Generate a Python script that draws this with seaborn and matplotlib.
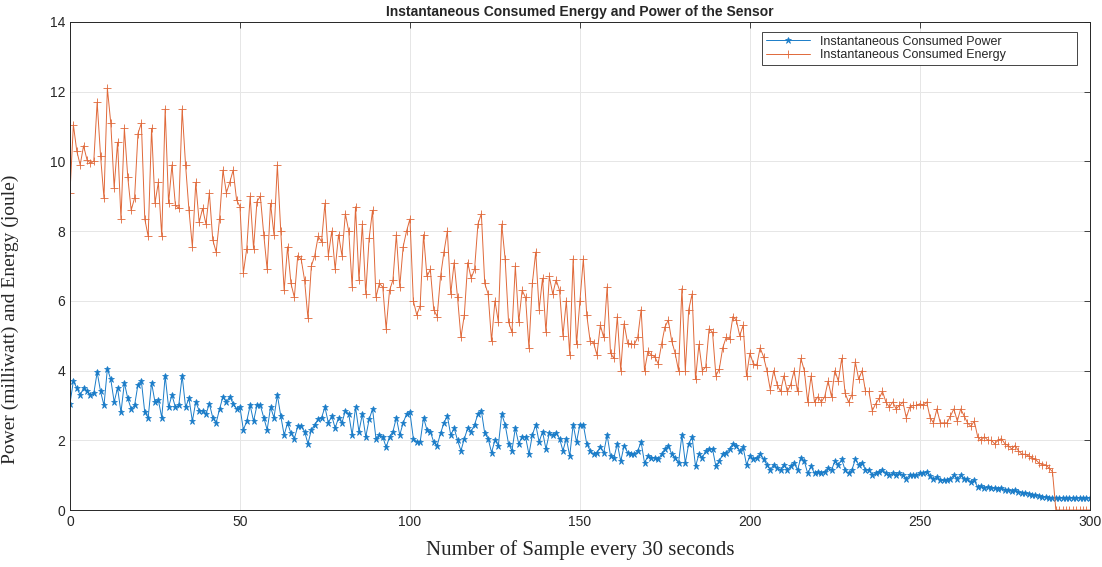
import numpy as np
import pandas as pd
import matplotlib
matplotlib.use('Agg')
import matplotlib.pyplot as plt
import seaborn as sns

# Values (one sample every 30 s)
energy_0_49 = [9.1, 11.05, 10.3, 9.9, 10.45, 10.05, 9.95, 10.0, 11.7, 10.15,
               8.95, 12.1, 11.1, 9.25, 10.55, 8.35, 10.95, 9.55, 8.6, 8.95,
               10.8, 11.1, 8.35, 7.85, 10.95, 8.8, 9.4, 7.85, 11.5, 8.8,
               9.9, 8.75, 8.65, 11.5, 9.9, 8.6, 7.55, 9.4, 8.25, 8.65,
               8.2, 9.1, 7.75, 7.4, 8.35, 9.75, 9.1, 9.4, 9.75, 8.9]
energy_50_98 = [8.7, 6.8, 7.5, 9.0, 7.5, 8.85, 9.0, 7.9, 6.9, 8.8,
                7.9, 9.9, 8.0, 6.3, 7.55, 6.5, 6.1, 7.3, 7.2, 6.6,
                5.5, 7.0, 7.3, 7.85, 7.7, 8.8, 7.3, 8.0, 6.9, 7.9,
                7.3, 8.5, 8.0, 6.4, 8.7, 6.6, 8.2, 6.2, 7.8, 8.6,
                6.1, 6.5, 6.4, 5.2, 6.3, 6.6, 7.9, 6.4, 7.55]
energy_99_148 = [8.0, 8.35, 6.0, 5.6, 5.85, 7.9, 6.7, 6.9, 5.75, 5.55,
                 6.7, 7.4, 8.0, 6.2, 7.1, 6.1, 4.95, 5.6, 7.1, 6.65,
                 6.9, 8.2, 8.5, 6.5, 6.2, 4.85, 6.0, 5.4, 8.2, 7.2,
                 5.4, 5.1, 7.0, 5.4, 6.3, 6.1, 4.65, 6.5, 7.4, 5.75,
                 6.65, 5.1, 6.7, 6.2, 6.6, 6.3, 5.0, 6.0, 4.45, 7.2]
energy_149_198 = [4.75, 6.0, 7.2, 5.6, 4.85, 4.8, 4.45, 5.3, 4.95, 6.4,
                  4.5, 4.35, 5.55, 4.0, 5.35, 4.8, 4.75, 4.75, 4.95, 5.75,
                  4.0, 4.55, 4.45, 4.4, 4.2, 4.75, 5.25, 5.45, 4.85, 4.5,
                  4.0, 6.35, 4.0, 5.75, 6.2, 3.75, 4.75, 4.0, 4.1, 5.2,
                  5.1, 3.85, 4.05, 4.65, 4.95, 4.9, 5.55, 5.45, 5.0, 5.3]
energy_199_248 = [3.85, 4.5, 4.2, 4.15, 4.65, 4.4, 4.0, 3.45, 4.0, 3.6,
                  3.4, 3.85, 3.4, 3.6, 4.0, 3.4, 4.35, 4.0, 3.1, 3.85,
                  3.1, 3.25, 3.1, 3.25, 3.7, 3.25, 4.0, 3.7, 4.35, 3.35,
                  3.1, 3.3, 4.25, 3.75, 4.0, 3.4, 3.4, 2.85, 3.05, 3.2,
                  3.4, 3.1, 2.95, 3.1, 2.9, 3.0, 3.1, 2.65, 2.95, 3.0]
energy_249_300 = [3.0, 3.05, 3.0, 3.1, 2.65, 2.5, 2.9, 2.5, 2.5, 2.5,
                  2.7, 2.9, 2.55, 2.9, 2.7, 2.5, 2.4, 2.55, 2.1, 2.0,
                  2.1, 2.0, 2.0, 1.9, 2.0, 2.05, 1.9, 1.85, 1.75, 1.85,
                  1.7, 1.6, 1.6, 1.55, 1.5, 1.45, 1.35, 1.3, 1.3, 1.2,
                  1.1, 0, 0, 0, 0, 0, 0, 0, 0, 0, 0, 0]

power_0_49 = [3.05, 3.7, 3.5, 3.3, 3.5, 3.4, 3.3, 3.35, 3.95, 3.4,
              3.0, 4.05, 3.75, 3.1, 3.5, 2.8, 3.65, 3.2, 2.9, 3.0,
              3.6, 3.7, 2.8, 2.65, 3.65, 3.1, 3.15, 2.65, 3.85, 2.95,
              3.3, 2.95, 3.0, 3.85, 2.95, 3.2, 2.55, 3.1, 2.85, 2.85,
              2.75, 3.05, 2.65, 2.5, 2.9, 3.25, 3.1, 3.25, 3.05, 2.9]
power_50_98 = [2.95, 2.3, 2.55, 3.0, 2.55, 3.0, 3.0, 2.65, 2.3, 2.95,
               2.65, 3.3, 2.7, 2.15, 2.5, 2.2, 2.05, 2.4, 2.4, 2.25,
               1.9, 2.3, 2.45, 2.6, 2.65, 2.95, 2.5, 2.7, 2.35, 2.65,
               2.5, 2.85, 2.75, 2.15, 2.95, 2.25, 2.75, 2.1, 2.6, 2.9,
               2.05, 2.15, 2.1, 1.8, 2.1, 2.25, 2.65, 2.15, 2.5]
power_99_148 = [2.75, 2.8, 2.05, 1.95, 1.95, 2.65, 2.3, 2.25, 1.95, 1.85,
                2.2, 2.5, 2.7, 2.15, 2.35, 2.0, 1.7, 2.05, 2.35, 2.25,
                2.45, 2.75, 2.85, 2.2, 2.05, 1.65, 2.0, 1.85, 2.75, 2.45,
                1.9, 1.7, 2.35, 1.9, 2.1, 2.1, 1.6, 2.15, 2.45, 1.95,
                2.25, 1.75, 2.2, 2.15, 2.2, 2.05, 1.7, 2.05, 1.55, 2.45]
power_149_198 = [1.95, 2.45, 2.45, 1.9, 1.7, 1.6, 1.65, 1.8, 1.65, 2.15,
                 1.55, 1.5, 1.9, 1.4, 1.85, 1.65, 1.6, 1.6, 1.7, 1.95,
                 1.35, 1.55, 1.5, 1.5, 1.45, 1.6, 1.75, 1.85, 1.6, 1.5,
                 1.35, 2.15, 1.35, 1.9, 2.1, 1.25, 1.6, 1.5, 1.7, 1.75,
                 1.75, 1.25, 1.4, 1.6, 1.65, 1.75, 1.9, 1.85, 1.7, 1.8]
power_199_248 = [1.3, 1.55, 1.45, 1.5, 1.6, 1.45, 1.3, 1.15, 1.3, 1.2,
                 1.15, 1.3, 1.15, 1.25, 1.35, 1.15, 1.5, 1.4, 1.05, 1.25,
                 1.05, 1.1, 1.05, 1.1, 1.2, 1.15, 1.4, 1.3, 1.45, 1.15,
                 1.05, 1.15, 1.45, 1.3, 1.35, 1.15, 1.15, 1.0, 1.05, 1.1,
                 1.15, 1.05, 1.0, 1.05, 1.0, 1.05, 1.0, 0.9, 1.0, 1.0]
power_249_300 = [1.0, 1.05, 1.05, 1.1, 0.97, 0.88, 0.95, 0.85, 0.85, 0.85,
                 0.9, 1.0, 0.9, 1.0, 0.9, 0.88, 0.8, 0.85, 0.65, 0.68,
                 0.63, 0.65, 0.63, 0.63, 0.61, 0.63, 0.58, 0.58, 0.54, 0.56,
                 0.52, 0.49, 0.49, 0.46, 0.44, 0.42, 0.4, 0.37, 0.37, 0.35,
                 0.35, 0.35, 0.35, 0.35, 0.35, 0.35, 0.35, 0.35, 0.35, 0.35,
                 0.35, 0.35]

energy = (energy_0_49 + energy_50_98 + energy_99_148 + energy_149_198
          + energy_199_248 + energy_249_300)
power = (power_0_49 + power_50_98 + power_99_148 + power_149_198
         + power_199_248 + power_249_300)
sample = np.arange(len(energy))

df = pd.DataFrame({'sample': sample, 'power': power, 'energy': energy})

sns.set_style('white')
plt.rcParams['font.family'] = ['Liberation Sans', 'DejaVu Sans']

fig = plt.figure(figsize=(11.02, 5.67), dpi=100)
ax = fig.add_axes([0.0635, 0.1005, 0.9255, 0.8607])

blue = '#1a7cc8'
orange = '#e0693a'

sns.lineplot(data=df, x='sample', y='power', ax=ax, color=blue, lw=0.7,
             marker='*', markersize=5, markeredgewidth=0.5, markeredgecolor=blue,
             label='Instantaneous Consumed Power')
sns.lineplot(data=df, x='sample', y='energy', ax=ax, color=orange, lw=0.7,
             marker='+', markersize=6, markeredgewidth=0.6, markeredgecolor=orange,
             label='Instantaneous Consumed Energy')

ax.set_xlim(0, 300)
ax.set_ylim(0, 14)
ax.set_xticks(range(0, 301, 50))
ax.set_yticks(range(0, 15, 2))
ax.grid(True, color='#e6e6e6', lw=0.7)
ax.tick_params(direction='in', length=4, width=0.6, labelsize=10, colors='#262626',
               top=True, right=True)
for s in ax.spines.values():
    s.set_visible(True)
    s.set_color('#262626')
    s.set_linewidth(0.7)

ax.set_title('Instantaneous Consumed Energy and Power of the Sensor',
             fontsize=10, fontweight='bold', pad=4)
ax.set_xlabel('Number of Sample every 30 seconds', family='Liberation Serif',
              fontsize=15, labelpad=8)
ax.set_ylabel('Power (milliwatt) and Energy (joule)', family='Liberation Serif',
              fontsize=14)
ax.yaxis.set_label_coords(-0.05, 0.39)

leg = ax.legend(loc='upper left', bbox_to_anchor=(0.679, 0.91, 0.308, 0.07),
                mode='expand', borderaxespad=0, fontsize=9, frameon=True,
                fancybox=False, framealpha=1, edgecolor='#262626',
                handlelength=3.5, borderpad=0.3, labelspacing=0.15)
leg.get_frame().set_linewidth(0.6)

fig.savefig('out.png', dpi=100)
